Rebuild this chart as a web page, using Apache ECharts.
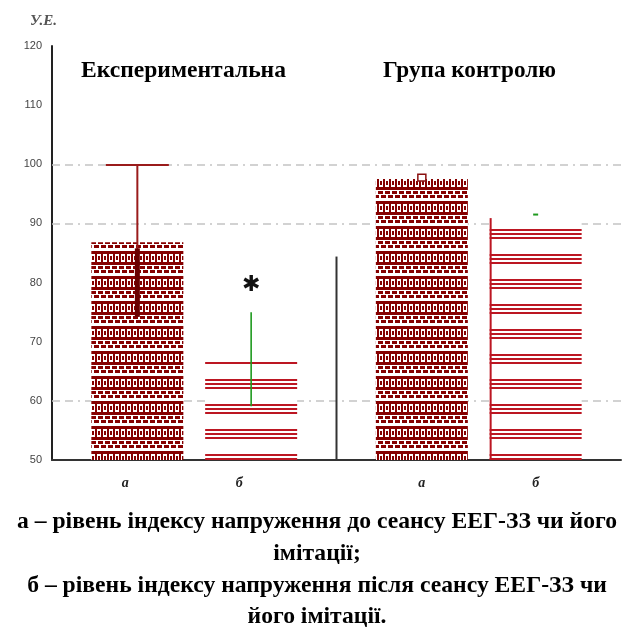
<!DOCTYPE html>
<html>
<head>
<meta charset="utf-8">
<script src="https://cdn.jsdelivr.net/npm/echarts@6/dist/echarts.min.js"></script>
<style>
html,body{margin:0;padding:0;background:#fff;}
#chart{width:627px;height:631px;}
</style>
</head>
<body>
<div id="chart"></div>
<script>
// ---------------- data ----------------
const groupTitles = ['Експериментальна', 'Група контролю'];
const barLabels = ['а', 'б', 'а', 'б'];
const means = [86.8, 66.7, 97.5, 90.9];
const errLow = [74.2, 59.1, 97.5, 90.9];
const errHigh = [99.9, 75.0, 98.3, 91.5];
const significant = [false, true, false, false];
const dividerTop = 84.4;
const yMin = 50, yMax = 120, yStep = 10;
const gridLineValues = [100, 90, 60];
const yAxisName = 'У.Е.';
const captionLines = [
  'а – рівень індексу напруження до сеансу ЕЕГ-ЗЗ чи його',
  'імітації;',
  'б – рівень індексу напруження після сеансу ЕЕГ-ЗЗ чи',
  'його імітації.'
];

// ---------------- layout / style ----------------
const slotCount = 10;
const barSlots = [1, 3, 6, 8];
const barWidth = 92;
const DARK = '#860000';
const RED = '#bc1622';
const GREEN = '#1f9a1f';

function patternA() {
  const w = 42, h = 25;
  const c = document.createElement('canvas'); c.width = w; c.height = h;
  const g = c.getContext('2d');
  g.fillStyle = '#fff'; g.fillRect(0, 0, w, h);
  g.fillStyle = DARK;
  g.fillRect(0, 1, w, 14);
  // chain links: white rings with dark centres
  for (let x = 0; x < w; x += 6) {
    g.fillStyle = '#fff'; g.fillRect(x + 1, 4, 4, 8);
    g.fillStyle = DARK; g.fillRect(x + 2, 6, 2, 4);
  }
  g.fillStyle = DARK;
  for (let x = -7; x < w + 7; x += 7) {
    g.fillRect(x, 16, 5, 3);
    g.fillRect(x + 3, 20, 5, 3);
  }
  return c;
}
function patternB() {
  const w = 4, h = 25;
  const c = document.createElement('canvas'); c.width = w; c.height = h;
  const g = c.getContext('2d');
  g.fillStyle = '#fff'; g.fillRect(0, 0, w, h);
  g.fillStyle = RED;
  g.fillRect(0, 4, w, 2); g.fillRect(0, 8, w, 2); g.fillRect(0, 12, w, 2);
  return c;
}
const patA = { image: patternA(), repeat: 'repeat' };
const patB = { image: patternB(), repeat: 'repeat' };
const barFills = [patA, patB, patA, patB];
const errStyles = [
  { kind: 'stem', color: '#9a1b1b', width: 2, inner: 5, innerColor: '#6a0000', cap: 63 },
  { kind: 'stem', color: GREEN, width: 1.6, cap: 0 },
  { kind: 'box', color: '#8a1010', cap: 8 },
  { kind: 'dash', color: GREEN, cap: 5, edge: RED }
];

const categories = [];
for (let k = 0; k < slotCount; k++) categories.push(String(k));
const slotLabel = {};
barSlots.forEach((s, i) => { slotLabel[s] = { text: barLabels[i], group: i < 2 ? 'a' : 'b' }; });

const barData = categories.map(() => null);
barSlots.forEach((s, i) => { barData[s] = { value: means[i], itemStyle: { color: barFills[i] } }; });
const errData = barSlots.map((s, i) => [s, means[i], errLow[i], errHigh[i]]);
const dividerX = (barSlots[1] + barSlots[2] + 1) / 2;

function fitScale(text, font, target) {
  const ctx = document.createElement('canvas').getContext('2d');
  ctx.font = font;
  return target / ctx.measureText(text).width;
}
const titleFont = 'bold 24px "Liberation Serif"';
const capFont = 'bold 24px "Liberation Serif"';
const capScale = fitScale(captionLines[0], capFont, 600);

const graphics = [];
graphics.push({ type: 'text', x: 81, y: 71, scaleX: fitScale(groupTitles[0], titleFont, 205),
  style: { text: groupTitles[0], font: titleFont, fill: '#000', textAlign: 'left', textVerticalAlign: 'middle' } });
graphics.push({ type: 'text', x: 383, y: 71, scaleX: fitScale(groupTitles[1], titleFont, 173),
  style: { text: groupTitles[1], font: titleFont, fill: '#000', textAlign: 'left', textVerticalAlign: 'middle' } });
graphics.push({ type: 'text', x: 30, y: 21,
  style: { text: yAxisName, font: 'italic bold 15px "Liberation Serif"', fill: '#555', textAlign: 'left', textVerticalAlign: 'middle' } });
const capY = [522, 554, 586, 617];
captionLines.forEach((t, i) => {
  graphics.push({ type: 'text', x: 317, y: capY[i], scaleX: capScale,
    style: { text: t, font: capFont, fill: '#000', textAlign: 'center', textVerticalAlign: 'middle' } });
});

const chart = echarts.init(document.getElementById('chart'), null, { renderer: 'canvas' });
chart.setOption({
  animation: false,
  backgroundColor: '#fff',
  grid: { left: 52, right: 6, top: 46, bottom: 171, containLabel: false },
  xAxis: [
    {
      type: 'category', data: categories, boundaryGap: true,
      axisLine: { show: true, lineStyle: { color: '#333', width: 2 } },
      axisTick: { show: false },
      splitLine: { show: false },
      axisLabel: {
        interval: 0, margin: 16,
        fontFamily: 'Liberation Serif', fontStyle: 'italic', fontWeight: 'bold', fontSize: 14, color: '#222',
        formatter: function (v, idx) {
          const l = slotLabel[idx];
          if (!l) return '';
          return '{' + l.group + '|' + l.text + '}';
        },
        rich: {
          a: { fontFamily: 'Liberation Serif', fontStyle: 'italic', fontWeight: 'bold', fontSize: 14, color: '#222', padding: [0, 24, 0, 0] },
          b: { fontFamily: 'Liberation Serif', fontStyle: 'italic', fontWeight: 'bold', fontSize: 14, color: '#222' }
        }
      }
    },
    { type: 'value', min: 0, max: slotCount, show: false }
  ],
  yAxis: {
    type: 'value', min: yMin, max: yMax, interval: yStep,
    axisLine: { show: true, lineStyle: { color: '#222', width: 2 } },
    axisTick: { show: false },
    splitLine: { show: false },
    axisLabel: { margin: 10, fontSize: 11, fontFamily: 'Liberation Sans', color: '#444' }
  },
  graphic: graphics,
  series: [
    {
      type: 'line', data: [], z: 1, silent: true,
      markLine: {
        z: 1, silent: true, symbol: ['none', 'none'], label: { show: false },
        lineStyle: { color: '#c4c4c4', type: [8, 5, 8, 5, 2, 5], width: 1.5 },
        data: gridLineValues.map(v => ({ yAxis: v }))
      }
    },
    {
      type: 'bar', data: barData, barWidth: barWidth, z: 2, silent: true
    },
    {
      type: 'line', xAxisIndex: 1, z: 3, silent: true, symbol: 'none',
      data: [[dividerX, yMin], [dividerX, dividerTop]],
      lineStyle: { color: '#333', width: 2 }
    },
    {
      type: 'custom', z: 4, silent: true,
      encode: { x: 0, y: [1, 2, 3] },
      data: errData,
      renderItem: function (params, api) {
        const i = params.dataIndex;
        const s = api.value(0), m = api.value(1), lo = api.value(2), hi = api.value(3);
        const st = errStyles[i];
        const pM = api.coord([s, m]), pLo = api.coord([s, lo]), pHi = api.coord([s, hi]);
        const cx = pM[0];
        const ch = [];
        if (st.edge) {
          const b = api.coord([s, yMin]);
          const ex = cx - barWidth / 2 + 1;
          ch.push({ type: 'line', shape: { x1: ex, y1: b[1], x2: ex, y2: pM[1] }, style: { stroke: st.edge, lineWidth: 2 } });
        }
        if (st.kind === 'stem') {
          ch.push({ type: 'line', shape: { x1: cx, y1: pLo[1], x2: cx, y2: pHi[1] }, style: { stroke: st.color, lineWidth: st.width } });
          if (st.inner) ch.push({ type: 'line', shape: { x1: cx, y1: pLo[1], x2: cx, y2: pM[1] + 6 }, style: { stroke: st.innerColor, lineWidth: st.inner } });
          if (st.cap) ch.push({ type: 'line', shape: { x1: cx - st.cap / 2, y1: pHi[1], x2: cx + st.cap / 2, y2: pHi[1] }, style: { stroke: st.color, lineWidth: st.width } });
        } else if (st.kind === 'box') {
          ch.push({ type: 'rect', shape: { x: cx - st.cap / 2, y: pHi[1], width: st.cap, height: pM[1] - pHi[1] + 2 }, style: { fill: '#fff', stroke: st.color, lineWidth: 1.5 } });
        } else if (st.kind === 'dash') {
          ch.push({ type: 'line', shape: { x1: cx - st.cap / 2, y1: pHi[1], x2: cx + st.cap / 2, y2: pHi[1] }, style: { stroke: st.color, lineWidth: 2 } });
        }
        if (significant[i]) {
          ch.push({ type: 'text', style: { text: '✱', x: cx, y: pHi[1] - 27, textAlign: 'center', textVerticalAlign: 'middle', fontSize: 22, fontFamily: 'DejaVu Sans', fill: '#111' } });
        }
        return { type: 'group', children: ch };
      }
    }
  ]
});
</script>
</body>
</html>
